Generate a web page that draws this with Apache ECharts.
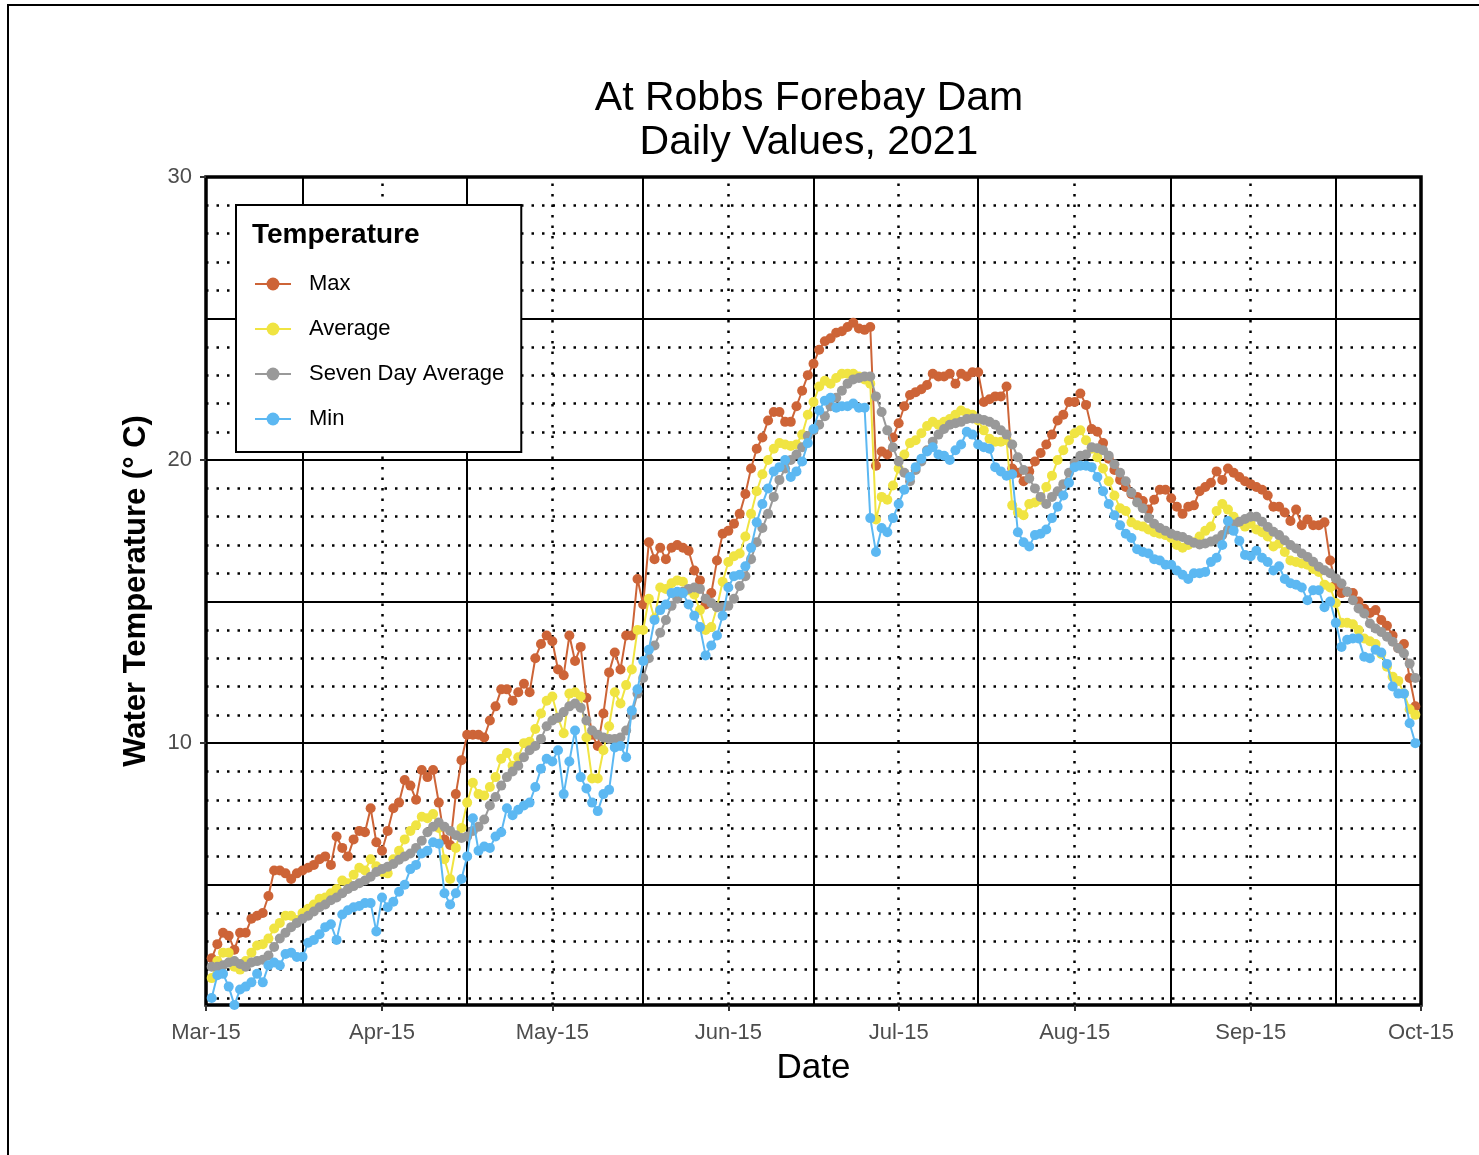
<!DOCTYPE html>
<html>
<head>
<meta charset="utf-8">
<title>At Robbs Forebay Dam</title>
<script src="https://cdn.jsdelivr.net/npm/echarts@6/dist/echarts.min.js"></script>
<style>
  html, body { margin: 0; padding: 0; background: #fff; }
  #chart { width: 1479px; height: 1155px; }
</style>
</head>
<body>
<div id="chart"></div>
<script>
  // day 0 = 2021-03-15, first reading is day 1 (Mar 16)
  const firstDay = 1
  const xTickDays = [0, 31, 61, 92, 122, 153, 184, 214]
  const xTickLabels = ['Mar-15', 'Apr-15', 'May-15', 'Jun-15', 'Jul-15', 'Aug-15', 'Sep-15', 'Oct-15']
  const xMinorDays = [17, 46, 77, 107, 136, 170, 199]
  const yTickValues = [10, 20, 30]

  const maxTemp = [
    2.4, 2.9, 3.3, 3.2, 2.7, 3.3, 3.3, 3.8, 3.9, 4.0,
    4.6, 5.5, 5.5, 5.4, 5.2, 5.4, 5.5, 5.6, 5.7, 5.9,
    6.0, 5.7, 6.7, 6.3, 6.0, 6.6, 6.9, 6.85, 7.7, 6.5,
    6.2, 6.9, 7.7, 7.9, 8.7, 8.5, 8.0, 9.05, 8.8, 9.05,
    7.9, 6.6, 6.4, 8.2, 9.4, 10.3, 10.3, 10.3, 10.2, 10.8,
    11.3, 11.9, 11.9, 11.5, 11.8, 12.1, 11.8, 13.0, 13.5, 13.8,
    13.6, 12.6, 12.4, 13.8, 12.9, 13.4, 11.6, 10.3, 9.9, 11.05,
    12.5, 13.2, 12.6, 13.8, 13.8, 15.8, 14.9, 17.1, 16.5, 16.9,
    16.5, 16.9, 17.0, 16.9, 16.8, 16.1, 15.75, 14.9, 15.3, 16.45,
    17.4, 17.5, 17.75, 18.1, 18.8, 19.7, 20.4, 20.8, 21.4, 21.7,
    21.7, 21.35, 21.35, 21.9, 22.45, 23.0, 23.4, 23.9, 24.2, 24.3,
    24.5, 24.55, 24.7, 24.85, 24.65, 24.6, 24.7, 19.8, 20.3, 20.2,
    20.8, 21.3, 21.9, 22.3, 22.4, 22.5, 22.65, 23.05, 22.95, 22.95,
    23.05, 22.7, 23.05, 22.95, 23.1, 23.1, 22.05, 22.15, 22.25, 22.25,
    22.6, 19.7, 19.55, 19.25, 19.6, 19.95, 20.25, 20.55, 20.9, 21.4,
    21.6, 22.05, 22.05, 22.35, 21.95, 21.1, 21.0, 20.6, 20.05, 19.65,
    19.3, 19.05, 18.8, 18.7, 18.55, 18.25, 18.6, 18.95, 18.95, 18.65,
    18.35, 18.1, 18.35, 18.4, 18.9, 19.05, 19.2, 19.6, 19.3, 19.7,
    19.55, 19.4, 19.25, 19.15, 19.05, 18.95, 18.75, 18.35, 18.35, 18.15,
    17.85, 18.25, 17.7, 17.9, 17.7, 17.7, 17.8, 16.45, 15.6, 15.3,
    15.35, 15.3, 15.0, 14.75, 14.6, 14.7, 14.35, 14.15, 13.8, 13.35,
    13.5, 12.3, 11.3
  ]

  const avgTemp = [
    1.7, 2.3, 2.6, 2.6, 2.1, 2.0, 2.3, 2.6, 2.85, 2.9,
    3.1, 3.45, 3.65, 3.9, 3.9, 3.75, 4.0, 4.15, 4.3, 4.5,
    4.55, 4.7, 4.85, 5.15, 5.05, 5.35, 5.6, 5.5, 5.9, 5.65,
    5.45, 5.4, 5.9, 6.2, 6.6, 6.9, 7.1, 7.4, 7.35, 7.5,
    7.0, 5.9, 5.2, 6.3, 7.0, 7.9, 8.6, 8.2, 8.15, 8.45,
    8.8, 9.45, 9.65, 9.2, 9.5, 10.0, 10.05, 10.5, 11.05, 11.5,
    11.65, 10.9, 10.35, 11.75, 11.8, 11.65, 10.2, 8.75, 8.75, 9.75,
    10.6, 11.8, 11.4, 12.05, 12.6, 14.0, 14.0, 15.1, 14.4, 15.5,
    15.45, 15.65, 15.75, 15.7, 15.4, 15.25, 14.7, 14.0, 14.1, 14.8,
    15.7, 16.4, 16.6, 16.7, 17.3, 18.1, 18.9, 19.5, 20.0, 20.4,
    20.6, 20.55, 20.5, 20.55, 20.9, 21.6, 22.05, 22.6, 22.8, 22.7,
    22.9, 23.05, 23.05, 23.05, 22.95, 22.85, 22.7, 17.9, 18.7, 18.6,
    19.1, 19.7, 20.2, 20.6, 20.7, 20.95, 21.2, 21.35, 21.25, 21.35,
    21.45, 21.6, 21.75, 21.65, 21.6, 21.4, 21.05, 20.75, 20.65, 20.65,
    20.7, 18.4, 18.15, 18.05, 18.45, 18.5, 18.6, 19.05, 19.45, 20.0,
    20.35, 20.7, 20.95, 21.05, 20.7, 20.4, 20.1, 19.7, 19.25, 18.75,
    18.3, 18.2, 17.8, 17.7, 17.65, 17.55, 17.45, 17.4, 17.35, 17.25,
    17.0, 16.9, 17.0, 17.1, 17.3, 17.5, 17.65, 18.2, 18.45, 18.25,
    18.0, 17.8, 17.65, 17.75, 17.55, 17.45, 17.3, 16.95, 17.05, 16.75,
    16.45, 16.4, 16.35, 16.3, 16.15, 16.05, 15.6, 15.5, 14.95, 14.25,
    14.25, 14.2, 14.0, 13.7, 13.6, 13.5, 13.15, 12.7, 12.35, 12.2,
    11.75, 11.2, 11.0
  ]

  const sevenDayAvg = [
    2.1, 2.1, 2.15, 2.25, 2.3, 2.2, 2.1, 2.25, 2.3, 2.35,
    2.5, 2.8, 3.1, 3.3, 3.5, 3.65, 3.8, 3.9, 4.05, 4.2,
    4.3, 4.45, 4.55, 4.7, 4.85, 4.95, 5.05, 5.15, 5.28, 5.45,
    5.55, 5.63, 5.73, 5.88, 6.0, 6.1, 6.3, 6.55, 6.85, 7.05,
    7.2, 7.05, 6.9, 6.75, 6.65, 6.7, 6.9, 7.05, 7.3, 7.8,
    8.1, 8.5, 8.8, 9.0, 9.2, 9.5, 9.75, 9.9, 10.15, 10.6,
    10.8, 10.9, 11.1, 11.3, 11.4, 11.25, 10.8, 10.45, 10.3, 10.2,
    10.15, 10.15, 10.2, 10.45, 11.0, 11.75, 12.3, 13.0, 13.45, 13.9,
    14.35, 14.85, 15.1, 15.35, 15.45, 15.5, 15.45, 15.1, 14.95, 14.8,
    14.8, 14.85, 15.1, 15.55, 15.9, 16.5, 17.1, 17.6, 18.1, 18.7,
    19.3, 19.7, 20.0, 20.2, 20.45, 20.85, 21.05, 21.25, 21.55, 21.9,
    22.2, 22.45, 22.7, 22.85, 22.9, 22.95, 22.95, 22.25, 21.7, 21.05,
    20.45, 19.95, 19.55, 19.25, 19.65, 19.95, 20.35, 20.65, 20.9, 21.1,
    21.25, 21.3, 21.35, 21.45, 21.47, 21.47, 21.42, 21.35, 21.25, 21.05,
    20.9, 20.55, 20.1, 19.65, 19.35, 19.0, 18.7, 18.45, 18.7, 18.9,
    19.15, 19.55, 19.9, 20.15, 20.2, 20.45, 20.42, 20.35, 20.15, 19.85,
    19.55, 19.25, 18.85, 18.5, 18.3, 17.95, 17.75, 17.6, 17.5, 17.4,
    17.33, 17.28, 17.18, 17.08, 17.02, 17.05, 17.12, 17.2, 17.35, 17.55,
    17.72, 17.82, 17.92, 18.0, 18.0, 17.82, 17.64, 17.47, 17.35, 17.17,
    17.0, 16.88, 16.7, 16.58, 16.41, 16.23, 16.11, 16.0, 15.82, 15.64,
    15.35, 15.05, 14.76, 14.58, 14.23, 14.05, 13.93, 13.76, 13.58, 13.35,
    13.17, 12.81, 12.3
  ]

  const minTemp = [
    1.0, 1.8, 1.85, 1.4, 0.75, 1.3, 1.4, 1.55, 1.85, 1.55,
    2.15, 2.25, 2.15, 2.55, 2.6, 2.45, 2.45, 2.95, 3.05, 3.25,
    3.5, 3.6, 3.05, 3.95, 4.1, 4.2, 4.25, 4.35, 4.35, 3.35,
    4.55, 4.2, 4.4, 4.75, 5.0, 5.55, 5.7, 6.1, 6.2, 6.5,
    6.45, 4.7, 4.3, 4.7, 5.2, 6.0, 7.35, 6.2, 6.35, 6.3,
    6.7, 6.85, 7.7, 7.45, 7.65, 7.8, 7.9, 8.45, 9.1, 9.45,
    9.35, 9.75, 8.2, 9.35, 10.45, 8.8, 8.4, 7.9, 7.6, 8.2,
    8.35, 9.85, 9.9, 9.5, 11.15, 11.9, 12.9, 13.3, 14.35, 14.7,
    14.9, 15.3, 15.35, 15.3, 14.9, 14.5, 14.1, 13.1, 13.45, 13.8,
    14.5, 15.5, 15.9, 15.95, 16.25, 16.9, 17.8, 18.45, 19.0, 19.6,
    19.75, 20.0, 19.4, 19.6, 19.95, 20.6, 21.1, 21.75, 22.1, 22.2,
    21.85, 21.9, 21.9, 22.0, 21.85, 21.85, 17.95, 16.75, 17.6, 17.45,
    17.95, 18.45, 18.95, 19.4, 19.75, 20.05, 20.3, 20.45, 20.2, 20.15,
    20.0, 20.35, 20.55, 21.0, 20.9, 20.55, 20.45, 20.4, 19.75, 19.6,
    19.45, 19.5, 17.45, 17.1, 16.95, 17.35, 17.4, 17.55, 17.95, 18.35,
    18.75, 19.2, 19.75, 19.8, 19.8, 19.75, 19.4, 18.9, 18.45, 18.05,
    17.7, 17.4, 17.25, 16.85, 16.75, 16.7, 16.5, 16.45, 16.3, 16.3,
    16.1, 15.95, 15.8, 16.0, 16.0, 16.05, 16.4, 16.55, 17.0, 17.85,
    17.5, 17.15, 16.65, 16.6, 16.8, 16.55, 16.4, 16.1, 16.25, 15.8,
    15.65, 15.6, 15.5, 15.05, 15.4, 15.4, 14.8, 15.0, 14.25, 13.4,
    13.65, 13.7, 13.7, 13.05, 13.0, 13.3, 13.2, 12.8, 12.0, 11.75,
    11.75, 10.7, 10.0
  ]

  const seriesNames = ['Max', 'Average', 'Seven Day Average', 'Min']
  const seriesColors = ['#CD6437', '#F0E442', '#999999', '#5CB8F2']

  const fontFamily = 'Liberation Sans, Arial, sans-serif'

  function toPairs (values) {
    return values.map((v, i) => [firstDay + i, v])
  }

  function gridLines () {
    let lines = []
    const solid = {color: '#000', width: 2, type: 'solid'}
    const dotted = {color: '#000', width: 2.5, type: [2.5, 8], cap: 'butt'}
    for (let v = 1; v < 30; v++) {
      lines.push({yAxis: v, lineStyle: v % 5 === 0 ? solid : dotted})
    }
    xMinorDays.forEach(d => lines.push({xAxis: d, lineStyle: solid}))
    xTickDays.slice(1, -1).forEach(d => lines.push({xAxis: d, lineStyle: dotted}))
    return lines
  }

  function makeSeries (name, values, color, z) {
    return {
      name: name,
      type: 'line',
      data: toPairs(values),
      z: z,
      symbol: 'circle',
      symbolSize: 10,
      showSymbol: true,
      color: color,
      itemStyle: {color: color},
      lineStyle: {color: color, width: 2},
      emphasis: {disabled: true},
      animation: false
    }
  }

  let chart = echarts.init(document.getElementById('chart'))

  let option = {
    backgroundColor: '#fff',
    animation: false,
    textStyle: {fontFamily: fontFamily},
    grid: {
      left: 206,
      right: 58,
      top: 177,
      bottom: 150,
      show: true,
      borderColor: '#000',
      borderWidth: 3.5,
      backgroundColor: 'transparent'
    },
    legend: {
      data: seriesNames,
      orient: 'vertical',
      z: 20,
      left: 236,
      top: 205,
      padding: [68, 17, 22, 18],
      itemWidth: 36,
      itemHeight: 16,
      itemGap: 23,
      backgroundColor: '#fff',
      borderColor: '#000',
      borderWidth: 2,
      borderRadius: 0,
      selectedMode: false,
      textStyle: {
        fontSize: 22,
        color: '#000',
        fontFamily: fontFamily,
        padding: [0, 0, 0, 13]
      }
    },
    graphic: [
      {
        type: 'rect',
        z: -10,
        silent: true,
        shape: {x: 8, y: 5, width: 3000, height: 3000},
        style: {fill: 'none', stroke: '#000', lineWidth: 2}
      },
      {
        type: 'text',
        z: 100,
        x: 809,
        y: 121,
        style: {
          text: 'At Robbs Forebay Dam\nDaily Values, 2021',
          textAlign: 'center',
          textVerticalAlign: 'middle',
          fontSize: 41,
          lineHeight: 44,
          fontFamily: fontFamily,
          fill: '#000'
        }
      },
      {
        type: 'text',
        z: 100,
        x: 252,
        y: 235,
        style: {
          text: 'Temperature',
          textVerticalAlign: 'middle',
          fontSize: 28,
          fontWeight: 'bold',
          fontFamily: fontFamily,
          fill: '#000'
        }
      }
    ],
    xAxis: {
      type: 'value',
      min: 0,
      max: 214,
      name: 'Date',
      nameLocation: 'middle',
      nameGap: 46,
      nameTextStyle: {fontSize: 35, color: '#000', fontFamily: fontFamily},
      axisLine: {show: false},
      splitLine: {show: false},
      axisTick: {
        show: true,
        customValues: xTickDays,
        length: 6,
        lineStyle: {color: '#333', width: 2}
      },
      axisLabel: {
        customValues: xTickDays,
        margin: 17,
        fontSize: 22,
        color: '#4d4d4d',
        fontFamily: fontFamily,
        formatter: function (v) {
          let i = xTickDays.indexOf(v)
          return i >= 0 ? xTickLabels[i] : ''
        }
      }
    },
    yAxis: {
      type: 'value',
      min: 0.75,
      max: 30,
      name: 'Water Temperature (° C)',
      nameLocation: 'middle',
      nameGap: 54,
      nameTextStyle: {fontSize: 31, fontWeight: 'bold', color: '#000', fontFamily: fontFamily},
      axisLine: {show: false},
      splitLine: {show: false},
      axisTick: {
        show: true,
        customValues: yTickValues,
        length: 6,
        lineStyle: {color: '#333', width: 2}
      },
      axisLabel: {
        customValues: yTickValues,
        margin: 14,
        fontSize: 22,
        color: '#4d4d4d',
        fontFamily: fontFamily
      }
    },
    series: [
      {
        name: 'grid',
        type: 'line',
        data: [],
        z: 1,
        silent: true,
        markLine: {
          z: 1,
          silent: true,
          symbol: ['none', 'none'],
          label: {show: false},
          animation: false,
          emphasis: {disabled: true},
          data: gridLines()
        }
      },
      makeSeries(seriesNames[0], maxTemp, seriesColors[0], 2),
      makeSeries(seriesNames[1], avgTemp, seriesColors[1], 3),
      makeSeries(seriesNames[2], sevenDayAvg, seriesColors[2], 4),
      makeSeries(seriesNames[3], minTemp, seriesColors[3], 5)
    ]
  }

  chart.setOption(option)
</script>
</body>
</html>
